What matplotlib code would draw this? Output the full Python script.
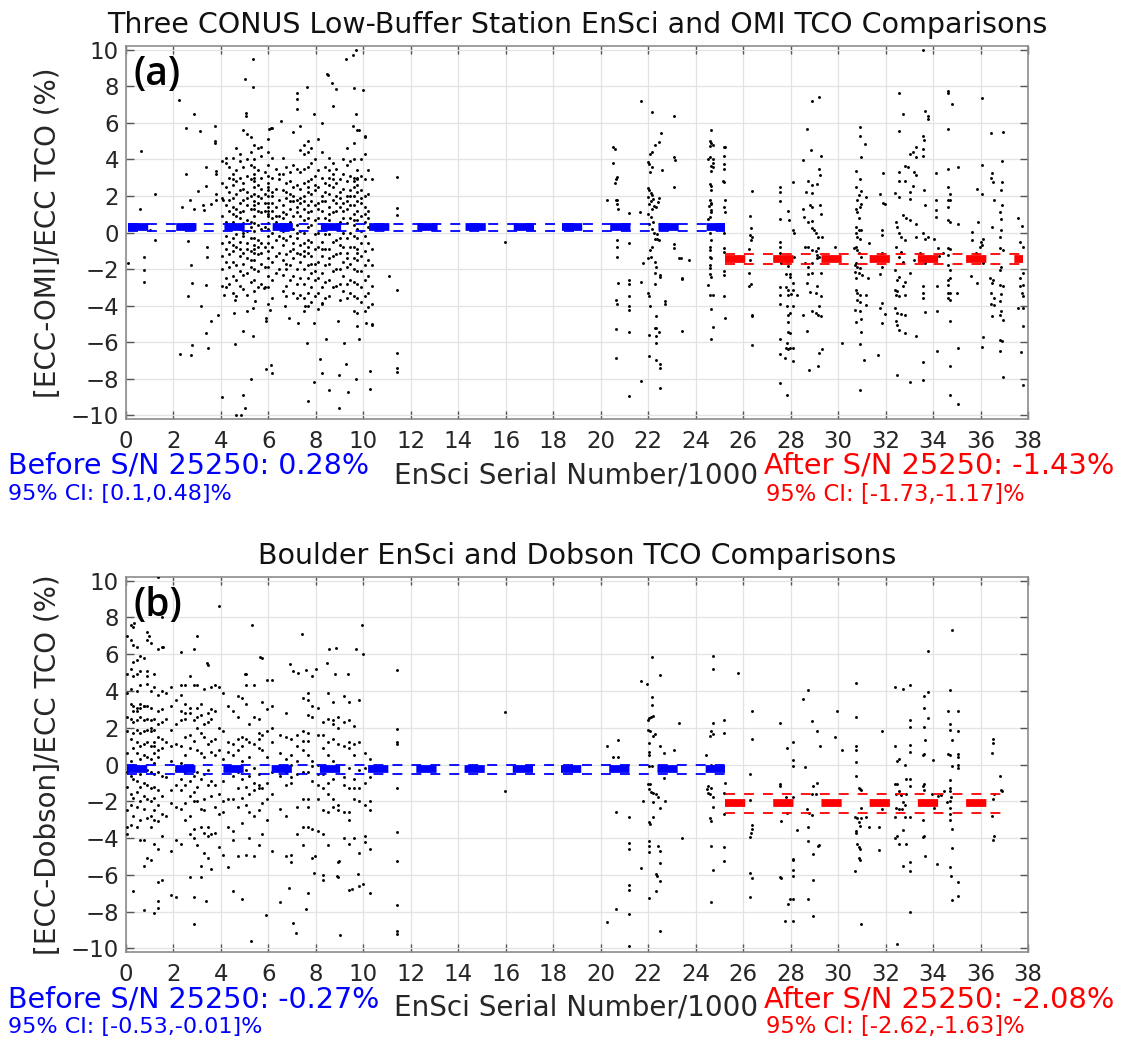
import numpy as np
import matplotlib
matplotlib.use("Agg")
import matplotlib.pyplot as plt

plt.rcParams["font.family"] = ["DejaVu Sans"]

SPLIT = 25.25  # S/N 25250 / 1000
BLUE = "#0000ff"
RED = "#ff0000"

# ---------------- panel (a): EnSci vs OMI ----------------
# dense batches before S/N 10500, one list of y per serial column
a_col_x = [4.05, 4.2, 4.35, 4.5, 4.65, 4.8, 4.95, 5.1, 5.25, 5.4, 5.55, 5.7, 5.85,
           6.0, 6.15, 6.3, 6.45, 6.6, 6.75, 6.9, 7.05, 7.2, 7.35, 7.5, 7.65, 7.8,
           7.95, 8.1, 8.25, 8.4, 8.55, 8.7, 8.85, 9.0, 9.15, 9.3, 9.45, 9.6, 9.75,
           9.9, 10.05, 10.2, 10.35]
a_col_y = [
    [2.7, 1.9, 0.9, -0.6, -1.3, -2.0, 3.9],
    [3.8, 2.5, 1.5, 0.6, -0.2, -0.9, -1.6, -2.5, 4.1, -3.0],
    [3.0, 2.2, 1.2, 0.3, -0.5, -1.2, -2.8, 3.6, 1.8, -1.9],
    [4.1, 3.2, 2.6, 1.9, 1.0, 0.6, -0.3, -1.0, -1.6, -2.4, -3.3, 2.9, 1.4, -0.7],
    [4.6, 3.4, 2.1, 1.3, 0.4, -0.1, -0.8, -1.8, -2.6, -3.5, 2.8, 0.9],
    [3.9, 3.0, 2.3, 1.6, 0.8, 0.2, -0.5, -1.3, -2.1, -2.9, 4.3, 1.1, -0.9],
    [5.6, 3.6, 2.7, 1.8, 1.2, 0.5, -0.2, -1.1, -1.7, -2.3, -3.1, 2.4, 0.0],
    [5.4, 4.0, 3.1, 2.2, 1.5, 0.7, 0.1, -0.6, -1.4, -2.2, -3.4, 1.9, -0.9],
    [5.2, 3.7, 2.9, 2.0, 1.3, 0.6, -0.3, -1.0, -1.9, -2.7, 4.4, 0.3, -1.5],
    [4.8, 4.0, 3.6, 3.2, 2.8, 2.5, 2.1, 1.7, 1.3, 0.9, 0.5, 0.1, -0.3, -0.7, -1.1,
     -1.5, -2.0, -2.6, -3.2, 3.0, 1.5, -0.9],
    [4.6, 3.4, 2.6, 2.0, 1.2, 0.4, -0.4, -1.2, -2.1, -3.0, 1.6, -0.8],
    [4.7, 4.2, 3.0, 1.9, 1.1, 0.2, -0.6, -1.7, -2.8, 2.4, -1.1],
    [3.3, 2.1, 1.2, 0.3, -0.8, -1.9, -3.0, 1.6],
    [5.1, 4.4, 3.7, 3.1, 2.7, 2.3, 2.0, 1.6, 1.2, 0.9, 0.5, 0.2, -0.2, -0.6, -1.0,
     -1.4, -1.9, -2.4, -3.0, 1.4, 1.0, 2.5, -3.9],
    [5.7, 4.1, 3.0, 2.2, 1.6, 0.8, 0.0, -0.8, -1.6, -2.6, -3.6, 1.2, 2.0],
    [3.5, 2.4, 1.4, 0.6, -0.4, -1.3, -2.2, 0.9],
    [2.9, 1.8, 0.9, -0.2, -1.1, -2.0, 3.2],
    [4.1, 3.2, 2.3, 1.5, 0.8, 0.1, -0.7, -1.5, -2.3, -3.2, 1.1, -0.3],
    [3.6, 2.7, 1.9, 1.0, 0.3, -0.4, -1.2, -2.0, -2.9, -3.5, 2.2, -1.7],
    [2.8, 2.1, 1.3, 0.6, -0.2, -1.0, -1.8, -2.6, 3.3, 1.7],
    [5.5, 3.7, 2.5, 1.7, 0.9, 0.2, -0.6, -1.4, -2.4, -3.3, 2.0, -0.9],
    [3.5, 2.6, 1.8, 1.1, 0.4, -0.3, -1.1, -2.0, -2.8, -3.6, 1.4, 0.0],
    [5.8, 4.5, 3.3, 2.4, 1.6, 0.9, 0.1, -0.7, -1.6, -2.5, -3.4, 1.9, -1.2],
    [4.8, 4.3, 3.5, 2.7, 2.0, 1.3, 0.7, 0.0, -0.6, -1.3, -2.0, -2.8, -3.6, -4.3, 1.7, -1.0],
    [5.0, 4.4, 3.6, 2.8, 2.2, 1.5, 0.8, 0.3, -0.4, -1.1, -1.8, -2.5, -3.3, -4.0, 1.1,
     -0.8, 2.5],
    [4.6, 3.8, 2.9, 2.1, 1.2, 0.4, -0.5, -1.3, -2.2, -3.0, -3.8, 1.7, -1.7],
    [4.0, 3.1, 2.3, 1.5, 0.7, -0.1, -0.9, -1.7, -2.6, -3.5, 2.6, -2.1],
    [5.1, 3.4, 2.5, 1.6, 0.8, 0.0, -0.8, -1.6, -2.5, -3.3, -4.2, 1.3],
    [4.4, 3.0, 2.0, 1.2, 0.4, -0.5, -1.3, -2.2, -3.0, -3.9, 1.7, -0.9],
    [3.6, 2.7, 1.7, 0.8, -0.1, -0.9, -1.8, -2.7, -3.6, 2.2],
    [4.1, 3.4, 3.0, 2.6, 2.1, 1.4, 0.7, -0.1, -0.9, -1.7, -2.6, -3.5, 1.0, -1.4],
    [3.8, 3.2, 2.5, 1.8, 1.1, 0.3, -0.5, -1.3, -2.1, -3.0, 2.9],
    [3.5, 2.7, 2.0, 1.2, 0.4, -0.4, -1.2, -2.0, -2.9, 1.6],
    [2.9, 2.2, 1.4, 0.6, -0.3, -1.1, -2.0, -2.8, -3.7, 1.9, -0.7],
    [4.0, 3.2, 2.4, 1.6, 0.8, 0.0, -0.8, -1.6, -2.4, -3.2, 1.2],
    [4.6, 3.7, 2.8, 2.0, 1.3, 0.5, -0.3, -1.1, -1.9, -2.8, -3.6, 1.7, -1.4],
    [3.9, 3.1, 2.3, 1.5, 0.8, 0.0, -0.8, -1.7, -2.6, -3.3, 2.0],
    [4.9, 4.0, 3.0, 2.5, 2.0, 1.5, 1.0, 0.4, -0.2, -0.8, -1.4, -2.0, -2.7, -3.5, -4.3,
     2.8, 0.7],
    [5.6, 3.4, 3.0, 2.6, 2.2, 1.7, 1.2, 0.7, 0.2, -0.3, -0.9, -1.5, -2.1, -2.8, -3.6,
     -4.4, 2.9, -1.1],
    [4.0, 3.1, 2.3, 1.6, 0.9, 0.1, -0.6, -1.3, -2.1, -3.0, -3.8, 1.9],
    [5.3, 4.3, 2.9, 2.0, 1.4, 0.6, -0.2, -1.0, -1.8, -2.6, -3.5, -4.3, 1.0],
    [3.4, 2.1, 1.2, 0.3, -0.6, -1.5, -2.4, -3.3, -4.1, 0.8],
    [2.9, 0.3, -0.9, -1.8, -2.9, -3.9, -5.0],
]
# single soundings before S/N 25250 (serial/1000, % difference)
a_before_pts = [
    (0.62, 4.47), (0.59, 1.3), (0.09, -1.68), (0.77, -1.32), (0.77, -2.05), (0.77, -2.72),
    (1.22, 2.08), (1.22, -0.42), (1.0, 0.13), (2.25, 7.23), (2.53, 3.2), (2.35, 1.4),
    (2.53, 5.69), (2.88, 6.47), (2.7, 1.79), (2.88, 1.3), (2.6, -0.45), (2.73, -1.78),
    (2.8, -2.74), (2.6, -3.46), (2.28, -6.67), (2.73, -6.72), (2.76, -6.18), (3.1, 5.56),
    (3.02, 2.26), (3.18, -4.04), (3.23, 1.49), (3.29, 1.21), (3.38, 3.6), (3.38, 2.57),
    (3.41, -0.82), (3.41, -1.32), (3.38, -2.86), (3.38, -5.49), (3.45, -6.34), (3.56, -4.86),
    (3.56, 1.58), (3.76, 5.83), (3.76, 5.02), (3.76, 4.87), (3.79, 3.35), (3.79, 3.2),
    (3.79, 2.12), (3.79, 1.76), (3.89, -4.49), (4.04, -9.02), (4.04, -2.95), (4.13, -3.41),
    (4.09, 1.76),
    (5.0, 8.37), (5.37, 7.95), (5.37, 9.5), (5.04, 6.56), (5.07, 6.38), (6.02, 5.65),
    (6.12, 5.74), (6.53, 6.1), (7.21, 7.64), (7.21, 7.28), (7.21, 6.74), (7.63, 7.97),
    (7.9, 6.47), (8.24, 5.98), (8.46, 8.68), (8.53, 8.64), (8.66, 8.15), (8.72, 6.92),
    (8.84, 7.83), (9.26, 9.51), (9.56, 9.73), (9.7, 10.0), (9.59, 7.88), (9.97, 7.77),
    (9.71, 6.47), (9.56, 5.83), (9.82, 5.6), (10.08, 5.24),
    (4.65, -9.98), (4.84, -10.0), (4.92, -8.9), (5.02, -9.6), (5.26, -8.03), (5.34, -5.67),
    (4.95, -5.4), (4.61, -6.12), (4.54, -4.4), (4.58, -3.68), (5.1, -4.31), (5.37, -4.13),
    (5.44, -3.77), (5.9, -7.48), (6.12, -7.26), (6.15, -7.66), (5.9, -4.86), (5.9, -4.67),
    (6.05, -4.22), (5.82, -3.04), (6.68, -4.04), (6.85, -4.67), (7.63, -6.03), (7.93, -8.17),
    (7.66, -9.24), (8.16, -6.94), (8.27, -7.66), (8.54, -8.6), (8.99, -7.79), (8.99, -9.62),
    (9.26, -7.21), (9.37, -8.75), (9.7, -8.02), (10.27, -7.57), (10.3, -8.57), (9.82, -5.85),
    (9.74, -5.13), (10.12, -4.95), (10.35, -5.04), (9.2, -6.03), (8.92, -4.86), (7.93, -4.95),
    (8.24, -3.86), (7.56, -4.04), (8.42, -5.85), (7.25, -4.95),
    (11.43, 3.06), (11.43, 1.36), (11.43, 0.94), (11.43, -3.13), (11.1, -2.37),
    (11.43, -6.61), (11.43, -7.39), (11.43, -7.63), (15.96, -0.51),
    (20.25, 1.79), (20.52, 4.66), (20.6, 4.57), (20.52, 3.79), (20.6, 2.7), (20.68, 3.03),
    (20.65, 2.93), (20.65, 1.79), (20.7, 1.76), (20.68, 1.54), (20.72, 1.3), (20.7, -0.42),
    (20.7, -0.78), (20.68, -1.32), (20.72, -2.74), (20.65, -3.68), (20.68, -3.9),
    (20.65, -5.27), (20.63, -6.85), (21.21, 1.07), (21.21, -0.6), (21.21, -2.59),
    (21.21, -2.81), (21.21, -3.5), (21.21, -4.0), (21.21, -4.26), (21.21, -5.43),
    (21.21, -8.93), (21.7, 7.19), (21.7, -2.68), (21.7, -8.11), (21.67, 1.12),
    (22.15, 6.59), (22.52, 5.43), (22.44, 4.93), (22.29, 4.78), (22.14, 4.38), (22.06, 4.29),
    (21.98, 3.84), (22.03, 3.75), (22.14, 3.57), (22.08, 3.3), (22.6, 3.42), (22.0, 2.45),
    (22.05, 2.3), (22.1, 2.15), (22.15, 2.05), (22.0, 1.95), (22.2, 1.85), (22.1, 1.7),
    (22.05, 1.55), (22.25, 1.45), (22.15, 1.3), (22.47, 1.9), (22.42, 1.67), (22.32, 1.39),
    (22.0, 1.0), (22.1, 0.85), (22.2, 0.6), (22.05, 0.45), (22.15, 0.2), (22.25, 0.0),
    (22.35, -0.1), (22.29, -0.33), (22.37, -0.36), (22.44, -0.42), (22.14, -0.78),
    (22.06, -0.96), (22.1, -1.32), (21.98, -1.41), (22.27, -1.61), (21.8, -1.68),
    (22.33, -1.87), (22.27, -2.23), (22.5, -2.32), (22.5, -2.45), (22.27, -2.81),
    (21.98, -3.32), (22.02, -3.5), (22.06, -4.0), (22.7, -3.77), (22.7, -3.89),
    (22.33, -4.58), (22.27, -5.22), (22.33, -5.22), (22.44, -5.45), (22.33, -5.67),
    (22.33, -6.03), (22.03, -5.58), (22.03, -6.76), (22.33, -6.97), (22.5, -7.21),
    (22.5, -7.39), (22.5, -8.53),
    (23.09, 6.38), (23.09, 4.11), (23.12, 3.97), (23.09, 2.48), (23.09, -0.63),
    (23.09, -0.87), (23.29, -1.41), (23.4, -1.38), (23.7, -1.5), (23.44, -2.5),
    (23.44, -2.55), (23.44, -5.4),
    (24.66, 5.62), (24.6, 5.02), (24.64, 4.87), (24.72, 4.8), (24.6, 4.71), (24.6, 4.11),
    (24.72, 4.02), (24.52, 4.02), (24.74, 3.79), (24.64, 3.66), (24.74, 3.57), (24.64, 3.39),
    (24.6, 2.66), (24.64, 2.57), (24.66, 2.3), (24.6, 1.76), (24.64, 1.61), (24.66, 1.54),
    (24.58, 1.43), (24.64, 1.21), (24.66, 1.12), (24.6, 0.85), (24.52, 0.76), (24.9, 0.31),
    (24.6, -0.05), (24.64, -0.42), (24.6, -0.78), (24.62, -0.96), (24.6, -1.32),
    (24.64, -1.41), (24.62, -1.78), (24.6, -1.96), (24.6, -2.26), (24.64, -2.41),
    (24.52, -2.86), (24.6, -3.41), (24.72, -3.41), (24.64, -4.18), (24.72, -5.16),
    (24.64, -5.85), (25.24, 4.69), (25.18, 4.66), (25.21, 4.2), (25.18, 3.75), (25.18, 3.48),
    (25.16, 2.84), (25.18, 2.75), (25.24, 1.76), (25.21, 1.39), (25.24, 1.12), (25.18, -0.05),
    (25.21, -0.87), (25.21, -1.05), (25.18, -2.08), (25.21, -2.32), (25.18, -3.5),
    (25.24, -4.67),
]
a_after_pts = [
    (26.39, 2.25), (26.28, 0.89), (26.33, 0.22), (26.28, -0.14), (26.39, -0.24),
    (26.33, -0.42), (26.25, -0.92), (26.28, -1.5), (26.25, -2.23), (26.33, -2.83),
    (26.25, -2.92), (26.39, -4.49), (26.39, -4.58), (26.39, -6.18),
    (27.56, 2.48), (27.56, 2.21), (27.56, 1.7), (27.56, 0.76), (27.56, -0.51), (27.56, -0.78),
    (27.56, -1.14), (27.59, -1.68), (27.57, -2.99), (27.57, -3.41), (27.57, -3.89),
    (27.56, -5.82), (27.57, -6.67), (27.57, -8.24),
    (27.9, 1.16), (27.93, 0.71), (28.08, 2.75), (28.1, 0.13), (28.13, -0.05), (27.97, -1.32),
    (28.13, -1.32), (27.85, -1.54), (27.9, -1.83), (27.82, -2.26), (27.97, -2.26),
    (27.97, -2.41), (28.08, -2.74), (27.82, -2.99), (27.9, -3.13), (28.08, -3.13),
    (27.9, -3.41), (28.0, -3.35), (28.25, -3.41), (27.85, -4.0), (27.9, -4.49), (27.97, -4.4),
    (28.08, -4.0), (27.88, -4.91), (27.9, -5.45), (27.97, -5.49), (27.85, -6.03),
    (27.82, -6.3), (27.9, -6.39), (27.97, -6.3), (28.08, -6.3), (27.77, -6.85), (28.08, -7.03),
    (27.85, -8.89),
    (28.51, 3.99), (28.89, 7.19), (29.2, 7.41), (28.71, 5.65), (28.86, 4.51), (29.28, 4.2),
    (29.2, 3.48), (29.22, 3.12), (28.74, 2.84), (28.92, 2.61), (29.12, 2.66), (28.66, 2.21),
    (28.89, 2.16), (28.51, 1.3), (28.82, 1.49), (28.92, 1.39), (29.22, 1.49), (28.56, 0.85),
    (28.74, 0.58), (28.89, 0.63), (29.28, 1.03), (28.89, 0.22), (28.97, 0.13), (29.05, -0.05),
    (29.17, -0.27), (29.32, -0.27), (28.59, -0.78), (28.74, -0.82), (28.89, -0.96),
    (29.05, -1.01), (29.17, -0.87), (29.12, -1.23), (29.2, -1.32), (28.59, -1.68),
    (28.74, -1.87), (28.89, -1.68), (29.12, -1.41), (28.74, -2.26), (28.89, -2.23),
    (29.28, -2.23), (28.71, -2.77), (29.12, -2.95), (28.82, -3.28), (29.05, -3.32),
    (29.28, -3.46), (29.2, -4.0), (28.89, -4.31), (29.05, -4.4), (29.17, -4.49),
    (29.28, -4.58), (28.51, -4.49), (28.71, -5.36), (29.32, -6.39), (29.2, -6.61),
    (29.17, -7.3), (28.76, -7.52), (29.86, -0.78), (30.17, -6.03),
    (30.94, 5.78), (30.94, 5.29), (31.15, 4.84), (30.97, 4.15), (30.74, 3.35), (30.92, 2.93),
    (30.74, 2.48), (30.97, 2.26), (30.86, 2.07), (31.17, 1.94), (30.81, 1.76), (30.97, 1.58),
    (30.94, 1.39), (30.74, 1.3), (30.81, 1.12), (30.86, 0.82), (30.77, 0.31), (30.89, 0.16),
    (30.97, 0.13), (30.74, -0.05), (30.81, -0.27), (30.92, -0.38), (30.74, -0.78),
    (30.66, -0.87), (30.81, -0.96), (30.89, -1.14), (30.97, -1.32), (30.77, -1.68),
    (30.71, -1.78), (30.81, -1.87), (30.94, -1.96), (30.71, -2.14), (30.89, -2.23),
    (31.01, -2.32), (30.77, -2.5), (30.74, -3.13), (30.81, -3.32), (30.94, -3.41),
    (31.17, -3.41), (30.81, -3.68), (30.92, -3.82), (31.17, -3.95), (30.71, -4.26),
    (30.92, -4.31), (30.77, -4.91), (30.97, -4.73), (30.97, -5.45), (30.92, -6.12),
    (31.08, -6.97), (30.94, -8.6), (31.32, -0.6),
    (31.89, 3.24), (31.89, 1.61), (31.97, 1.54), (31.77, 2.12), (31.86, 0.13), (31.86, -0.14),
    (31.86, -1.14), (31.84, -1.87), (31.97, -1.32), (31.77, -2.26), (31.84, -3.86),
    (31.77, -4.13), (31.97, -4.44), (31.84, -4.95), (31.7, -6.7), (31.24, -2.5),
    (32.58, 7.64), (32.73, 6.47), (32.58, 5.56), (33.01, 4.29), (33.16, 4.38), (33.27, 4.15),
    (33.27, 4.66), (33.58, 4.57), (33.58, 4.2), (32.96, 3.6), (32.58, 3.3), (32.81, 3.66),
    (33.2, 3.3), (33.27, 3.15), (32.58, 2.84), (32.81, 2.81), (33.16, 2.57), (32.4, 2.17),
    (33.01, 2.21), (32.58, 1.94), (33.01, 1.85), (33.61, 2.3), (33.66, 1.49), (32.73, 0.94),
    (32.86, 0.82), (32.43, 0.58), (32.5, 0.31), (32.58, -0.05), (32.66, -0.27),
    (32.81, -0.42), (33.04, 0.67), (33.27, 0.49), (33.27, -0.24), (33.58, -0.05),
    (33.66, -0.33), (33.78, -0.24), (32.43, -0.78), (32.66, -1.05), (32.55, -1.32),
    (32.73, -1.59), (33.2, -1.5), (33.43, -1.14), (33.58, -1.41), (33.66, -1.68),
    (32.4, -2.05), (32.58, -2.41), (32.5, -2.59), (32.81, -2.68), (33.04, -2.19),
    (32.4, -3.13), (32.5, -3.22), (32.73, -2.95), (32.43, -3.41), (32.58, -3.5),
    (32.81, -3.41), (33.58, -2.95), (33.58, -3.32), (33.58, -3.59), (32.4, -4.13),
    (32.5, -4.4), (32.66, -4.46), (32.81, -4.49), (32.43, -4.86), (32.5, -5.04),
    (32.58, -5.31), (32.81, -5.49), (33.27, -5.67), (32.5, -7.81), (33.01, -8.17),
    (33.58, -8.06), (33.66, -4.37), (33.58, -7.08), (33.66, 6.65), (33.58, 5.29),
    (33.61, 5.05), (33.78, 6.2), (33.58, 9.96), (33.78, 6.38),
    (34.61, 7.74), (34.65, 7.64), (34.78, 7.05), (34.61, 5.65), (34.65, 3.48), (35.07, 3.6),
    (34.12, 3.24), (34.61, 2.48), (34.7, 2.12), (34.61, 1.76), (34.7, 1.76), (34.12, 1.76),
    (34.12, 1.21), (34.61, 1.39), (34.12, 0.85), (34.61, 0.67), (34.7, 0.58), (35.04, 0.49),
    (34.04, -0.38), (34.19, -0.87), (34.61, -0.87), (34.73, -0.92), (34.65, -1.23),
    (34.42, -1.14), (34.27, -1.29), (34.61, -1.78), (34.7, -2.05), (34.73, -2.5),
    (34.61, -2.59), (34.61, -2.86), (34.16, -2.95), (34.61, -3.32), (34.73, -3.32),
    (35.01, -3.32), (34.61, -3.59), (34.73, -3.68), (34.16, -4.31), (34.7, -4.86),
    (34.16, -6.49), (35.04, -6.3), (34.7, -7.3), (34.7, -8.89), (35.04, -9.38),
    (36.08, 7.34), (36.45, 5.43), (36.93, 5.47), (36.91, 3.89), (36.08, 3.71), (36.5, 3.24),
    (36.45, 2.99), (36.53, 2.75), (35.84, 2.39), (36.91, 2.75), (36.08, 2.12), (36.88, 2.34),
    (36.57, 1.79), (36.91, 1.49), (36.8, 1.12), (36.88, 0.76), (36.5, 0.31), (35.65, 0.04),
    (36.88, 0.13), (36.8, -0.24), (35.88, 0.58), (36.11, -0.33), (35.65, -0.42),
    (36.04, -0.51), (36.08, -0.69), (35.96, -0.78), (36.8, -0.87), (36.96, -0.96),
    (35.81, -1.14), (35.96, -1.5), (36.11, -1.68), (36.88, -1.87), (36.8, -2.05),
    (35.58, -2.37), (36.39, -2.5), (36.54, -2.59), (36.5, -2.77), (35.84, -2.77),
    (36.8, -2.86), (36.96, -2.95), (36.45, -3.32), (36.57, -3.59), (36.88, -3.35),
    (36.8, -3.77), (36.45, -3.89), (36.57, -3.95), (36.88, -4.31), (36.8, -4.49),
    (36.96, -4.76), (36.5, -4.58), (36.11, -5.71), (36.08, -6.25), (36.8, -5.89),
    (36.91, -5.94), (36.8, -6.49), (36.96, -7.88),
    (37.57, 0.82), (37.73, 0.34), (37.68, -0.51), (37.8, -0.78), (37.77, -2.23),
    (37.68, -2.5), (37.77, -2.86), (37.68, -2.95), (37.73, -3.32), (37.77, -3.46),
    (37.57, -4.13), (37.8, -4.13), (37.77, -5.09), (37.7, -6.54), (37.77, -8.35),
]
a_mean = [0.28, -1.43]
a_ci = [[0.1, 0.48], [-1.73, -1.17]]

# ---------------- panel (b): Boulder EnSci vs Dobson ----------------
b_col_x = [0.05, 0.2, 0.3, 0.45, 0.6, 0.75, 0.9, 1.05, 1.2, 1.35, 1.5, 1.7, 1.9, 2.1,
           2.3, 2.5, 2.7, 2.85, 3.0, 3.15, 3.3, 3.45, 3.6, 3.75, 3.9, 4.1, 4.3, 4.5,
           4.7, 4.9, 5.05, 5.2, 5.4, 5.6, 5.75, 5.95, 6.15, 6.5, 6.75, 6.95, 7.2,
           7.45, 7.65, 7.85, 8.1, 8.3, 8.5, 8.7, 8.95, 9.2, 9.4, 9.6, 9.8, 10.05, 10.3]
b_col_y = [
    [3.9, 2.6, 1.8, 0.6, -0.4, -1.2, -2.5, -3.4, -3.8, 7.0, 4.9],
    [7.6, 6.8, 5.2, 3.3, 2.5, 1.4, 0.2, -0.6, -1.6, -2.2, -3.3, 4.1],
    [7.5, 6.5, 5.6, 4.8, 3.2, 2.3, 1.7, 0.9, 0.0, -0.8, -1.8, -2.8, -6.9, 2.9],
    [6.4, 5.7, 4.9, 4.0, 3.1, 2.4, 1.9, 1.2, 0.6, -0.1, -0.9, -1.5, -2.3, -3.4, 2.9],
    [5.9, 5.1, 4.3, 3.3, 2.6, 1.7, 1.0, 0.3, -0.5, -1.2, -2.0, -3.0, -4.1, 3.1],
    [5.8, 3.2, 2.4, 1.8, 1.1, 0.5, -0.2, -1.0, -1.7, -2.4, -4.1, -5.5, -7.9, 3.2],
    [7.2, 6.8, 5.1, 4.4, 3.2, 2.5, 1.9, 1.2, 0.4, -0.3, -1.1, -1.9, -2.9, -5.1, 4.8],
    [6.6, 4.0, 3.1, 2.4, 1.8, 1.0, 0.3, -0.4, -1.3, -2.0, -2.8, -3.4, -5.2, 2.0],
    [4.9, 4.2, 2.5, 1.9, 1.2, 0.6, 0.1, -0.5, -1.2, -1.8, -2.5, -3.0, -4.3, -8.1, 1.0],
    [10.2, 6.3, 3.8, 2.9, 2.2, 1.5, 0.8, 0.4, -0.4, -1.4, -2.2, -3.1, -4.6, -6.4, -7.4, -7.8],
    [8.0, 6.4, 4.0, 3.0, 2.3, 1.4, 0.9, -0.6, -1.7, -2.7, -3.9, -6.3],
    [2.5, 1.2, -0.7, -2.8, 3.9],
    [4.2, 3.2, 1.9, 1.0, 0.2, -1.4, -2.1, -4.7, -7.1],
    [3.5, 2.2, 1.1, -0.3, -1.1, -2.3, -4.1, -7.2],
    [6.1, 4.3, 3.8, 2.9, 2.4, 1.0, 0.1, -0.8, -1.4, -2.4, -4.3],
    [4.3, 3.3, 2.8, 2.5, 1.5, 0.5, -0.4, -1.1, -2.1, -3.0],
    [4.8, 3.1, 2.8, 1.6, 0.9, -0.3, -0.9, -1.7, -2.8, -3.8, -6.1],
    [6.3, 4.3, 2.4, 1.3, -0.6, -1.5, -2.0, -3.5, -4.0, -7.2, -8.7],
    [4.3, 3.1, 2.0, 0.8, -0.4, -1.2, -2.0, -4.4, 2.6],
    [3.3, 2.7, 1.7, 0.6, -0.8, -2.4, -3.4, -5.5, -6.1],
    [4.1, 2.2, 1.5, 0.4, -0.5, -1.9, -2.5, -3.7, -4.8],
    [5.4, 2.8, 2.3, 1.1, -0.3, -1.1, -3.4, -3.9, -5.1],
    [4.2, 3.0, 2.5, 1.3, 0.7, -0.9, -1.7, -3.8, -5.7],
    [4.3, 2.9, 1.4, 0.5, -1.1, -2.3, -3.7],
    [8.6, 4.2, 2.0, 0.8, -1.6, -2.7, -4.5],
    [3.9, 1.8, 0.3, -0.9, -2.0, -2.6, -4.9],
    [3.2, 1.2, 0.7, -0.3, -1.9, -3.4, -5.6],
    [2.9, 1.1, 0.5, -0.6, -1.9, -3.6, -4.1, -6.9],
    [3.7, 2.6, 1.4, 0.8, -0.4, -1.3, -2.3, -5.0],
    [3.6, 1.5, 1.0, 0.2, -0.8, -1.8, -3.2, -7.3],
    [4.9, 4.3, 3.3, 1.4, -0.3, -1.2, -2.2, -4.9],
    [2.2, 1.2, 0.4, -0.6, -1.6, -2.6, -4.0],
    [4.3, 2.6, 1.1, -0.2, -1.0, -1.4, -2.8, -5.0],
    [2.5, 1.7, 1.4, 0.9, -0.5, -1.1, -1.3, -2.5, -4.4],
    [5.8, 3.4, 1.6, 0.8, -1.3, -2.1, -3.8],
    [4.6, 3.0, 1.8, 0.4, -1.0, -1.9, -3.0],
    [4.6, 3.2, 2.0, 1.2, -0.4, -1.6, -4.7],
    [1.6, 0.6, -0.6, -2.4],
    [2.8, 1.5, 0.3, -0.4, -1.1, -2.8, -5.0],
    [1.4, 0.5, 0.0, -0.7, -1.0, -4.9, -5.3],
    [1.6, 1.0, 0.2, -0.5, -2.3, -3.8],
    [3.6, 1.8, 1.3, 0.8, -0.4, -1.9, -3.4, -4.4],
    [3.9, 3.5, 2.7, 1.7, 1.3, 0.5, -0.4, -1.9, -2.3, -3.4],
    [4.8, 2.6, 3.2, 0.2, -0.1, -0.9, -3.5, -5.1],
    [3.1, 1.6, 0.0, -0.5, -1.1, -1.9, -3.6],
    [2.3, 1.6, 0.9, -0.5, -1.3, -2.5, -3.8],
    [3.9, 2.5, 1.2, 0.5, -1.0, -1.6, -2.6, -4.4],
    [3.4, 2.4, 2.2, 1.4, 0.2, -0.8, -1.9, -2.3],
    [2.6, 2.0, 1.1, -0.3, -2.2, -2.5, -5.3, -6.1],
    [3.7, 2.3, 1.0, -0.7, -1.1, -2.6, -4.0],
    [3.4, 2.4, 1.2, 0.9, -0.2, -1.3, -2.6, -3.0, -4.3, -6.8],
    [2.1, 1.1, 0.5, -0.8, -1.3, -1.9, -4.0],
    [3.5, 1.2, -0.3, -1.3, -2.0, -4.8, -6.6],
    [0.6, -0.2, -1.0, -2.2, -3.9, -4.2],
    [0.3, -0.7, -2.0, -2.5, -4.6, -7.0],
]
b_before_pts = [
    (5.3, 7.6), (9.95, 7.6), (7.4, 7.1), (3.0, 7.0), (9.7, 6.3), (10.0, 6.0), (8.55, 6.3),
    (8.85, 6.35), (5.65, 5.85), (3.4, 5.5), (6.9, 5.45), (7.05, 5.1), (7.25, 5.0),
    (7.6, 5.15), (8.0, 5.2), (8.45, 5.5), (8.8, 4.9), (9.35, 4.95), (5.0, 4.95),
    (0.32, 7.7), (1.55, 6.4), (0.95, 7.0),
    (3.38, -7.43), (5.26, -9.62), (5.9, -8.16), (6.5, -7.47), (6.85, -6.73), (7.03, -8.64),
    (7.18, -9.19), (7.59, -7.86), (7.68, -6.99), (7.9, -5.9), (7.95, -5.0), (8.3, -6.0),
    (8.3, -6.3), (8.88, -6.07), (9.0, -9.25), (8.96, -5.23), (9.79, -5.95), (10.0, -6.5),
    (9.52, -6.75),
    (11.43, 5.15), (11.43, 1.93), (11.43, 1.2), (11.43, 1.1), (11.43, -1.27), (11.43, -3.67),
    (11.43, -5.23), (11.43, -7.67), (11.43, -9.05), (11.43, -9.2), (15.96, 2.83),
    (15.96, -1.46),
    (20.25, 0.98), (20.25, -8.59), (20.52, 0.43), (20.72, 0.39), (20.72, 1.33),
    (20.65, -2.61), (20.63, -7.85), (21.21, -2.83), (21.21, -4.26), (21.21, -4.59),
    (21.21, -6.54), (21.21, -6.82), (21.21, -8.14), (21.21, -9.86),
    (21.7, 4.55), (21.94, 4.39), (22.14, 5.86), (22.5, 4.88), (22.14, 3.65), (22.14, 3.26),
    (22.1, 2.6), (22.03, 2.54), (22.2, 2.64), (21.98, 2.44), (21.98, 1.86), (22.06, 1.8),
    (22.29, 1.66), (22.21, 1.56), (22.03, 1.17), (22.03, 0.68), (22.03, 0.49), (22.5, 0.98),
    (22.67, 0.64), (23.09, 0.78), (23.29, 2.25), (22.03, -0.06), (22.16, -0.06),
    (22.67, -0.74), (21.98, -1.04), (22.06, -1.07), (22.03, -1.31), (22.1, -1.5),
    (22.21, -1.56), (22.33, -1.62), (22.42, -1.76), (21.8, -2.0), (22.21, -2.05),
    (22.72, -2.0), (22.5, -2.34), (22.21, -2.83), (22.03, -3.11), (22.06, -3.24),
    (22.03, -4.18), (22.03, -4.41), (22.03, -4.76), (22.42, -4.41), (22.5, -4.72),
    (22.5, -5.35), (22.33, -5.94), (22.37, -6.04), (22.5, -6.33), (22.33, -6.86),
    (22.03, -7.25), (21.7, -5.61), (22.5, -9.04), (23.44, -4.02),
    (24.72, 5.92), (24.75, 5.21), (24.72, 2.25), (24.64, 1.8), (24.72, 1.66), (24.6, 1.56),
    (24.44, 0.49), (24.64, 0.0), (24.75, -0.06), (24.82, -0.2), (24.52, -1.17),
    (24.47, -1.31), (24.64, -1.27), (24.52, -1.56), (24.6, -1.62), (24.72, -1.76),
    (24.72, -2.29), (24.6, -2.89), (24.64, -3.05), (24.64, -4.43), (24.72, -5.76),
    (24.64, -7.48), (25.18, 2.42), (25.18, 1.7), (25.24, -0.98), (25.18, -1.56),
    (25.18, -2.68), (25.18, -4.49), (25.18, -5.27),
]
b_after_pts = [
    (25.78, 4.98), (26.39, 2.93), (26.39, 1.37), (26.28, -0.49), (26.28, -1.95),
    (26.39, -3.28), (26.39, -3.52), (26.33, -3.71), (26.28, -3.95), (26.28, -5.92),
    (26.39, -6.15), (26.28, -7.23),
    (27.56, 2.25), (27.56, -1.04), (27.56, -1.17), (27.59, -3.07), (27.56, -6.11),
    (27.59, -6.19), (27.77, -8.54), (28.08, -8.54), (27.86, 0.92), (28.1, 1.21), (28.1, 0.23),
    (28.08, -0.1), (27.82, -1.76), (28.08, -1.76), (27.86, -2.64), (28.08, -5.14),
    (28.08, -5.2), (28.08, -5.76), (28.08, -6.04), (27.9, -7.6), (27.97, -7.32),
    (28.08, -7.29), (28.25, -3.57),
    (28.51, 3.55), (28.74, 4.06), (28.89, 2.34), (29.09, 1.82), (29.23, 0.98), (28.59, -0.16),
    (28.94, -1.17), (29.12, -0.98), (28.92, -1.62), (29.07, -1.62), (28.68, -2.44),
    (28.76, -2.64), (28.92, -2.73), (28.74, -3.38), (28.74, -4.14), (29.17, -4.41),
    (29.2, -4.38), (28.94, -4.88), (28.94, -6.31), (28.74, -7.29), (28.94, -8.26),
    (29.97, 2.93), (29.86, 1.5), (30.17, 0.78),
    (30.74, 4.43), (30.74, 2.58), (30.74, 0.98), (30.74, 0.78), (30.74, 0.14), (30.77, -0.64),
    (30.89, -1.27), (30.92, -1.31), (30.97, -1.37), (30.97, -2.34), (30.71, -2.83),
    (30.81, -2.93), (30.97, -2.93), (30.86, -3.13), (30.92, -3.32), (30.77, -3.61),
    (30.77, -3.71), (30.81, -4.34), (30.89, -4.49), (30.92, -4.59), (30.89, -5.08),
    (30.92, -5.18), (30.71, -5.82), (30.97, -8.65), (31.17, -2.83), (31.32, -3.38),
    (31.74, -3.38), (31.74, -4.65),
    (31.86, 1.8), (31.86, -2.4), (32.4, 4.24), (32.73, 4.1), (33.01, 4.34), (33.04, 2.4),
    (33.04, 2.05), (32.4, 0.98), (33.01, 1.04), (33.01, 0.68), (32.5, 0.2), (32.58, 0.29),
    (32.81, 0.0), (32.4, -1.07), (32.5, -1.04), (32.58, -1.46), (33.01, -1.17),
    (33.04, -0.78), (32.86, -0.78), (32.43, -1.6), (32.66, -1.66), (32.86, -1.62),
    (32.73, -2.05), (32.81, -2.21), (32.71, -2.4), (32.43, -2.34), (32.58, -2.44),
    (32.4, -2.83), (32.81, -2.83), (33.01, -2.87), (32.73, -3.57), (32.4, -4.0),
    (32.5, -3.91), (32.58, -4.3), (32.86, -4.3), (32.73, -5.53), (33.01, -5.33),
    (33.01, -5.8), (33.01, -8.05), (32.5, -9.77),
    (33.78, 6.19), (33.61, 3.75), (33.78, 3.95), (33.61, 3.05), (33.78, 2.54), (33.61, 2.05),
    (33.66, 1.33), (33.61, 0.59), (33.58, 0.49), (34.0, 0.23), (33.61, -1.04),
    (33.58, -1.17), (33.61, -1.37), (33.97, -1.62), (34.19, -1.7), (34.04, -2.34),
    (33.58, -3.03), (33.58, -3.95), (33.61, -3.91), (33.66, -4.96), (34.16, -5.41),
    (34.78, 7.32), (34.7, 4.04), (34.65, 2.93), (35.07, 2.93), (34.7, 2.21), (34.73, 1.86),
    (35.04, 1.8), (34.78, 1.33), (34.65, 0.59), (34.7, 0.53), (35.04, 0.59), (35.04, 0.39),
    (35.04, 0.0), (35.04, -0.2), (34.78, -0.1), (34.73, -0.84), (34.7, -1.27),
    (34.73, -1.43), (34.76, -1.76), (34.7, -2.0), (34.58, -2.05), (34.73, -2.34),
    (34.7, -2.68), (34.73, -3.03), (34.78, -3.52), (34.78, -4.55), (34.7, -5.57),
    (34.76, -6.06), (35.07, -6.39), (34.78, -7.36), (35.04, -7.13), (34.45, -1.46),
    (34.35, -1.66),
    (36.54, 1.37), (36.54, 1.17), (36.5, 0.64), (36.8, -0.61), (36.88, -1.37),
    (36.91, -1.46), (36.57, -1.62), (36.54, -1.86), (36.5, -2.79), (36.57, -3.91),
    (36.54, -4.1),
]
b_mean = [-0.27, -2.08]
b_ci = [[-0.53, -0.01], [-2.62, -1.63]]

W, H = 1131, 1042


def flatten(col_x, col_y, pts):
    xs = [x for x, ys in zip(col_x, col_y) for _ in ys]
    ys = [y for ys in col_y for y in ys]
    xs += [p[0] for p in pts]
    ys += [p[1] for p in pts]
    return np.array(xs), np.array(ys)


def stat_lines(ax, x0, x1, mean, ci, color):
    ax.plot([x0, x1], [mean, mean], color=color, lw=5.6,
            ls=(0, (2.6, 3.6)), dash_capstyle="butt", zorder=4)
    for c in ci:
        ax.plot([x0, x1], [c, c], color=color, lw=1.3,
                ls=(0, (5.5, 5.0)), dash_capstyle="butt", zorder=5)


def panel(ax, bx, by, ax_pts, mean, ci, title, ylabel, tag):
    axx = np.array([p[0] for p in ax_pts])
    ayy = np.array([p[1] for p in ax_pts])
    ax.plot(bx, by, "o", color="k", ms=2.1, mew=0, ls="none", zorder=3)
    ax.plot(axx, ayy, "o", color="k", ms=2.1, mew=0, ls="none", zorder=3)
    stat_lines(ax, bx.min(), SPLIT, mean[0], ci[0], BLUE)
    stat_lines(ax, SPLIT, axx.max(), mean[1], ci[1], RED)

    ax.set_xlim(0, 38)
    ax.set_ylim(-10.2, 10.2)
    ax.set_xticks(np.arange(0, 39, 2))
    ax.set_yticks(np.arange(-10, 11, 2))
    ax.grid(True, color="#e3e3e3", lw=0.9)
    ax.set_axisbelow(True)
    ax.tick_params(direction="in", top=True, right=True, length=6, width=1,
                   color="#555555", labelsize=16.5, labelcolor="#262626")
    ax.tick_params(axis="x", pad=8)
    ax.tick_params(axis="y", pad=5)
    for s in ax.spines.values():
        s.set_color("#8c8c8c")
        s.set_linewidth(1.2)
    ax.set_title(title, fontsize=20.5, color="#111111", pad=9)
    ax.set_ylabel(ylabel, fontsize=20, color="#262626", labelpad=6)
    ax.text(0.008, 0.975, tag, transform=ax.transAxes, ha="left", va="top",
            fontsize=28, family="Open Sans", fontweight="semibold")


fig = plt.figure(figsize=(W / 100, H / 100), dpi=100)
ax_a = fig.add_axes([126 / W, 1 - 419 / H, 902 / W, 373 / H])
ax_b = fig.add_axes([126 / W, 1 - 952 / H, 902 / W, 375 / H])

ax_bx, ax_by = flatten(a_col_x, a_col_y, a_before_pts)
bb_x, bb_y = flatten(b_col_x, b_col_y, b_before_pts)

panel(ax_a, ax_bx, ax_by, a_after_pts, a_mean, a_ci,
      "Three CONUS Low-Buffer Station EnSci and OMI TCO Comparisons",
      "[ECC-OMI]/ECC TCO (%)", "(a)")
panel(ax_b, bb_x, bb_y, b_after_pts, b_mean, b_ci,
      "Boulder EnSci and Dobson TCO Comparisons",
      "[ECC-Dobson]/ECC TCO (%)", "(b)")


def footer(y_big, y_small, y_lab, mean, ci):
    fig.text(8 / W, 1 - y_big / H, f"Before S/N 25250: {mean[0]:g}%", color=BLUE,
             fontsize=20.5, ha="left", va="center")
    fig.text(8 / W, 1 - y_small / H, f"95% CI: [{ci[0][0]:g},{ci[0][1]:g}]%",
             color=BLUE, fontsize=16, ha="left", va="center")
    fig.text(576 / W, 1 - y_lab / H, "EnSci Serial Number/1000", color="#262626",
             fontsize=20, ha="center", va="center")
    fig.text(764 / W, 1 - y_big / H, f"After S/N 25250: {mean[1]:g}%", color=RED,
             fontsize=20.8, ha="left", va="center")
    fig.text(766 / W, 1 - y_small / H, f"95% CI: [{ci[1][0]:g},{ci[1][1]:g}]%",
             color=RED, fontsize=16.3, ha="left", va="center")


footer(466, 494, 476, a_mean, a_ci)
footer(999, 1027, 1008, b_mean, b_ci)

fig.savefig("out.png", dpi=100)
